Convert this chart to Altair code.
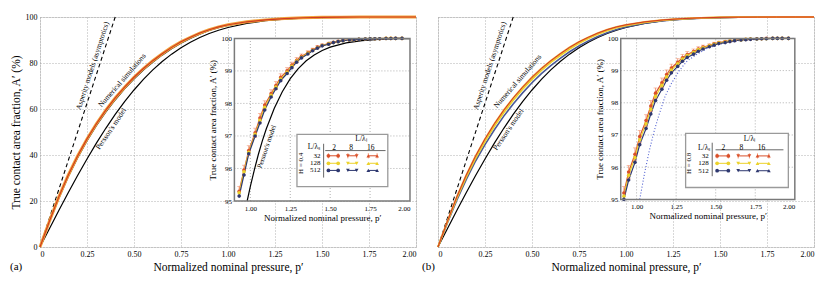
import altair as alt
import pandas as pd

FONT = "Liberation Serif"
W, H = 376, 230

# ---------------- main panels ----------------
P_MAIN = [0.0, 0.05, 0.10, 0.15, 0.20, 0.25, 0.30, 0.35, 0.40, 0.45, 0.50, 0.55, 0.60, 0.65,
          0.70, 0.75, 0.80, 0.85, 0.90, 0.95, 1.00, 1.10, 1.20, 1.30, 1.40, 1.50, 1.60, 1.70,
          1.80, 1.90, 2.00]
PERSSON_MAIN = [0.0, 7.97, 15.85, 23.58, 31.08, 38.29, 45.15, 51.61, 57.63, 63.19, 68.27, 72.87,
                76.99, 80.64, 83.85, 86.64, 89.04, 91.09, 92.81, 94.22, 95.45, 97.22, 98.36, 99.07,
                99.49, 99.73, 99.86, 99.93, 99.97, 99.99, 99.99]
NUM_A_TOP = [0.0, 11.2, 21.8, 31.2, 39.6, 47.0, 53.6, 59.5, 64.8, 69.5, 73.8, 77.6, 81.0, 84.0,
             86.8, 89.2, 91.2, 93.0, 94.5, 95.7, 96.6, 97.9, 98.75, 99.3, 99.65, 99.85, 99.93,
             99.97, 99.99, 100.0, 100.0]
NUM_A_LOW = [0.0, 10.8, 21.1, 30.4, 38.7, 46.1, 52.7, 58.6, 63.9, 68.7, 73.0, 76.9, 80.3, 83.4,
             86.2, 88.6, 90.7, 92.5, 94.1, 95.3, 96.3, 97.7, 98.6, 99.2, 99.6, 99.82, 99.92,
             99.96, 99.99, 100.0, 100.0]
NUM_B_TOP = [0.0, 11.2, 21.8, 31.2, 39.6, 47.0, 53.6, 59.5, 64.8, 69.5, 73.8, 77.6, 81.0, 84.0,
             86.8, 89.2, 91.2, 93.0, 94.5, 95.7, 96.6, 97.9, 98.75, 99.3, 99.65, 99.85, 99.93,
             99.97, 99.99, 100.0, 100.0]
NUM_B_MID = [0.0, 10.9, 21.2, 30.4, 38.7, 46.0, 52.6, 58.5, 63.8, 68.6, 72.9, 76.8, 80.3, 83.3,
             86.1, 88.6, 90.7, 92.5, 94.1, 95.4, 96.3, 97.7, 98.6, 99.2, 99.6, 99.82, 99.92,
             99.96, 99.99, 100.0, 100.0]
NUM_B_LOW = [0.0, 10.5, 20.4, 29.3, 37.4, 44.5, 51.0, 56.9, 62.2, 67.0, 71.4, 75.4, 78.9, 82.0,
             84.9, 87.4, 89.6, 91.5, 93.2, 94.6, 95.7, 97.3, 98.35, 99.0, 99.45, 99.72, 99.86,
             99.93, 99.97, 99.99, 100.0]
ASP_P = [0.0, 0.4]
ASP_A = [0.0, 100.0]

X_TICKS_MAIN = [0, 0.25, 0.5, 0.75, 1.0, 1.25, 1.5, 1.75, 2.0]
Y_TICKS_MAIN = [0, 20, 40, 60, 80, 100]

ANNOT_TEXT = ["Asperity models (asymptotics)", "Numerical simulations", "Persson's model"]
ANNOT_ANGLE = [288, 311, 304]
ANNOT_A_P = [0.281, 0.438, 0.379]
ANNOT_A_A = [78.8, 72.4, 51.3]
ANNOT_B_P = [0.277, 0.4245, 0.376]
ANNOT_B_A = [78.8, 72.0, 51.0]

# ---------------- insets ----------------
X_TICKS_IN = [1.0, 1.25, 1.5, 1.75, 2.0]
Y_TICKS_IN = [95, 96, 97, 98, 99, 100]
X_GRID_IN = [1.0, 1.25, 1.5, 1.75]
Y_GRID_IN = [96, 97, 98, 99]

P_PERSSON_IN = [0.98, 1.0, 1.025, 1.05, 1.075, 1.1, 1.15, 1.2, 1.25, 1.3, 1.35, 1.4, 1.45, 1.5,
                1.6, 1.7, 1.8, 1.9, 2.0]
A_PERSSON_IN = [95.0, 95.45, 95.96, 96.43, 96.85, 97.22, 97.85, 98.36, 98.76, 99.07, 99.31, 99.49,
                99.63, 99.73, 99.86, 99.93, 99.97, 99.99, 99.99]

P_IN_A = [0.93, 0.96, 0.99, 1.03, 1.06, 1.09, 1.13, 1.16, 1.19, 1.23, 1.26, 1.29, 1.32, 1.36,
          1.39, 1.42, 1.45, 1.49, 1.52, 1.55, 1.58, 1.62, 1.65, 1.68, 1.72, 1.75, 1.78, 1.81,
          1.85, 1.88, 1.91, 1.95]
A_A_32 = [95.3, 95.95, 96.55, 97.1, 97.55, 97.95, 98.3, 98.55, 98.8, 99.0, 99.18, 99.33, 99.45,
          99.56, 99.65, 99.73, 99.79, 99.84, 99.88, 99.91, 99.94, 99.95, 99.96, 99.97, 99.98,
          99.99, 99.99, 99.99, 100.0, 100.0, 100.0, 100.0]
E_A_32 = [0.15, 0.15, 0.15, 0.14, 0.14, 0.13, 0.12, 0.12, 0.11, 0.1, 0.09, 0.08, 0.07, 0.06,
          0.05, 0.05, 0.04, 0.04, 0.03, 0.03, 0.02, 0.02, 0.02, 0.01, 0.01, 0.01, 0.01, 0.01,
          0.0, 0.0, 0.0, 0.0]
A_A_128 = [95.25, 95.9, 96.5, 97.05, 97.48, 97.88, 98.25, 98.5, 98.75, 98.96, 99.14, 99.3, 99.42,
           99.54, 99.63, 99.71, 99.78, 99.83, 99.87, 99.9, 99.93, 99.95, 99.96, 99.97, 99.98,
           99.99, 99.99, 99.99, 100.0, 100.0, 100.0, 100.0]
A_A_512 = [95.15, 95.8, 96.45, 97.0, 97.4, 97.8, 98.2, 98.45, 98.7, 98.92, 99.1, 99.27, 99.4,
           99.52, 99.62, 99.7, 99.77, 99.82, 99.87, 99.9, 99.93, 99.95, 99.96, 99.97, 99.98,
           99.985, 99.99, 99.99, 99.995, 99.995, 100.0, 100.0]

P_IN_B = [0.92, 0.95, 0.99, 1.02, 1.06, 1.09, 1.12, 1.16, 1.19, 1.22, 1.26, 1.29, 1.32, 1.36,
          1.39, 1.42, 1.46, 1.49, 1.52, 1.56, 1.59, 1.62, 1.66, 1.69, 1.72, 1.76, 1.79, 1.82,
          1.86, 1.89, 1.92, 1.96]
A_B_32 = [95.2, 95.85, 96.4, 96.95, 97.45, 97.9, 98.3, 98.62, 98.88, 99.08, 99.26, 99.4, 99.5,
          99.59, 99.67, 99.73, 99.78, 99.83, 99.87, 99.9, 99.92, 99.94, 99.96, 99.97, 99.98,
          99.99, 99.99, 100.0, 100.0, 100.0, 100.0, 100.0]
E_B_32 = [0.2, 0.2, 0.2, 0.19, 0.18, 0.17, 0.16, 0.15, 0.14, 0.12, 0.11, 0.1, 0.09, 0.08, 0.07,
          0.06, 0.05, 0.05, 0.04, 0.03, 0.03, 0.02, 0.02, 0.02, 0.01, 0.01, 0.01, 0.0, 0.0, 0.0,
          0.0, 0.0]
A_B_128 = [95.1, 95.75, 96.3, 96.85, 97.35, 97.8, 98.2, 98.54, 98.81, 99.02, 99.21, 99.36, 99.47,
           99.56, 99.65, 99.71, 99.77, 99.82, 99.86, 99.89, 99.92, 99.94, 99.95, 99.97, 99.98,
           99.98, 99.99, 99.99, 100.0, 100.0, 100.0, 100.0]
A_B_512 = [95.0, 95.6, 96.15, 96.7, 97.2, 97.65, 98.07, 98.42, 98.7, 98.93, 99.13, 99.29, 99.41,
           99.51, 99.6, 99.67, 99.74, 99.79, 99.84, 99.87, 99.9, 99.93, 99.95, 99.96, 99.97,
           99.98, 99.99, 99.99, 100.0, 100.0, 100.0, 100.0]

DOT_P = [1.02, 1.05, 1.08, 1.11, 1.14, 1.18, 1.22, 1.27, 1.32, 1.38, 1.45, 1.55, 1.65, 1.8, 2.0]
DOT_A = [95.0, 95.8, 96.5, 97.1, 97.6, 98.2, 98.6, 99.0, 99.3, 99.5, 99.7, 99.85, 99.93, 99.98, 100.0]

LEG_ROWS = ["32", "128", "512"]
LEG_COLS = ["2", "8", "16"]

# ---------------- styles ----------------
GRID = "#9c9c9c"
C32, C128, C512 = "#d9502a", "#ecd22a", "#2e3870"
CERR = "#f2926e"
CORANGE, CRED = "#f2a33a", "#cf3a21"
CDOT = "#4b5bd0"
ROW_COLORS = [C32, C128, C512]
COL_SHAPES = ["circle", "triangle-down", "triangle-up"]


def main_axes(show_y):
    common = dict(grid=True, gridDash=[1, 2], gridColor=GRID, gridWidth=0.8, ticks=False,
                  domain=False, labelFont=FONT, titleFont=FONT, labelColor="black",
                  titleColor="black", labelFontSize=8, titleFontSize=11.5,
                  titleFontWeight="normal")
    ax = alt.Axis(values=X_TICKS_MAIN,
                  labelExpr="datum.value == 0 ? '0' : format(datum.value, '.2f')",
                  title="Normalized nominal pressure, p′", labelPadding=3, titlePadding=3,
                  **common)
    if show_y:
        ay = alt.Axis(values=Y_TICKS_MAIN, format="d",
                      title="True contact area fraction, A′ (%)", labelPadding=3,
                      titlePadding=4, **common)
    else:
        ay = alt.Axis(values=Y_TICKS_MAIN, labels=False, title="", **common)
    return ax, ay


def build_main(lines, ann_p, ann_a, show_y):
    ax, ay = main_axes(show_y)
    xs = alt.Scale(domain=[0, 2], nice=False, zero=False)
    ys = alt.Scale(domain=[0, 100], nice=False, zero=False)

    def XY():
        return dict(x=alt.X("p:Q", scale=xs, axis=ax), y=alt.Y("A:Q", scale=ys, axis=ay))

    layers = []
    asp = pd.DataFrame({"p": ASP_P, "A": ASP_A})
    layers.append(alt.Chart(asp).mark_line(color="black", strokeWidth=1.1, strokeDash=[4, 3])
                  .encode(**XY()))
    per = pd.DataFrame({"p": P_MAIN, "A": PERSSON_MAIN})
    layers.append(alt.Chart(per).mark_line(color="black", strokeWidth=1.2).encode(**XY()))
    for vals, color, width in lines:
        df = pd.DataFrame({"p": P_MAIN, "A": vals})
        layers.append(alt.Chart(df).mark_line(color=color, strokeWidth=width).encode(**XY()))
    for t, p, a, ang in zip(ANNOT_TEXT, ann_p, ann_a, ANNOT_ANGLE):
        df = pd.DataFrame({"p": [p], "A": [a], "t": [t]})
        layers.append(alt.Chart(df).mark_text(font=FONT, fontSize=7.5, angle=ang, color="black")
                      .encode(text="t:N", **XY()))
    return alt.layer(*layers)


def build_inset(x0, x1, yb, yt, pin, series, err, black_line, dotted, annot, leg, hlabel):
    xs = alt.Scale(domain=[0.9, 2.0], range=[x0, x1], nice=False, zero=False)
    ys = alt.Scale(domain=[95, 100], range=[yb, yt], nice=False, zero=False)
    common = dict(grid=False, ticks=False, domain=False, labelFont=FONT, titleFont=FONT,
                  labelColor="black", titleColor="black", titleFontWeight="normal", zindex=3)
    ax = alt.Axis(values=X_TICKS_IN, format=".2f", orient="bottom", offset=-(H - yb),
                  title="Normalized nominal pressure, p′", labelFontSize=7, titleFontSize=9,
                  labelPadding=3, titlePadding=2, **common)
    ay = alt.Axis(values=Y_TICKS_IN, format="d", orient="left", offset=-x0,
                  title="True contact area fraction, A′ (%)", labelFontSize=7, titleFontSize=9,
                  labelPadding=3, titlePadding=3, **common)

    def X(f):
        return alt.X(f"{f}:Q", scale=xs, axis=ax)

    def Y(f):
        return alt.Y(f"{f}:Q", scale=ys, axis=ay)

    L = []
    box = pd.DataFrame({"x1": [0.9], "x2": [2.0], "y1": [95.0], "y2": [100.0]})
    L.append(alt.Chart(box).mark_rect(color="white").encode(x=X("x1"), x2="x2", y=Y("y1"), y2="y2"))
    gv = pd.DataFrame({"g": X_GRID_IN, "lo": 95.0, "hi": 100.0})
    L.append(alt.Chart(gv).mark_rule(strokeDash=[1, 2], color=GRID, strokeWidth=0.8)
             .encode(x=X("g"), y=Y("lo"), y2="hi"))
    gh = pd.DataFrame({"g": Y_GRID_IN, "lo": 0.9, "hi": 2.0})
    L.append(alt.Chart(gh).mark_rule(strokeDash=[1, 2], color=GRID, strokeWidth=0.8)
             .encode(y=Y("g"), x=X("lo"), x2="hi"))
    if black_line:
        df = pd.DataFrame({"p": P_PERSSON_IN, "A": A_PERSSON_IN})
        L.append(alt.Chart(df).mark_line(color="black", strokeWidth=1.2).encode(x=X("p"), y=Y("A")))
    if dotted:
        df = pd.DataFrame({"p": DOT_P, "A": DOT_A})
        L.append(alt.Chart(df).mark_line(color=CDOT, strokeWidth=1.1, strokeDash=[1, 2])
                 .encode(x=X("p"), y=Y("A")))
    for vals, color in series:
        df = pd.DataFrame({"p": pin, "A": vals})
        L.append(alt.Chart(df).mark_line(color=color, strokeWidth=1.2).encode(x=X("p"), y=Y("A")))
    edf = pd.DataFrame({"p": pin, "A": series[0][0], "e": err})
    ebase = alt.Chart(edf).transform_calculate(lo="datum.A - datum.e", hi="datum.A + datum.e")
    L.append(ebase.mark_rule(color=CERR, strokeWidth=0.9).encode(x=X("p"), y=Y("lo"), y2="hi"))
    L.append(ebase.mark_tick(color=CERR, orient="horizontal", size=4, thickness=0.8)
             .encode(x=X("p"), y=Y("hi")))
    L.append(ebase.mark_tick(color=CERR, orient="horizontal", size=4, thickness=0.8)
             .encode(x=X("p"), y=Y("lo")))
    for vals, color in series:
        df = pd.DataFrame({"p": pin, "A": vals})
        L.append(alt.Chart(df).mark_point(filled=True, color=color, size=13, opacity=1)
                 .encode(x=X("p"), y=Y("A")))
    L.append(alt.Chart(box).mark_rect(fillOpacity=0, stroke="#7a7a7a", strokeWidth=1.5)
             .encode(x=X("x1"), x2="x2", y=Y("y1"), y2="y2"))
    if annot:
        df = pd.DataFrame({"p": [annot[0]], "A": [annot[1]], "t": ["Persson's model"]})
        L.append(alt.Chart(df).mark_text(font=FONT, fontSize=7, angle=annot[2], color="black")
                 .encode(x=X("p"), y=Y("A"), text="t:N"))

    # ---- legend ----
    bx = leg["box"]
    lb = pd.DataFrame({"x1": [bx[0]], "x2": [bx[1]], "y1": [bx[2]], "y2": [bx[3]]})
    L.append(alt.Chart(lb).mark_rect(fill="white", stroke="#9a9a9a", strokeWidth=1.3)
             .encode(x=X("x1"), x2="x2", y=Y("y1"), y2="y2"))
    v = leg["v"]
    h = leg["h"]
    rv = pd.DataFrame({"x1": [v[0]], "y1": [v[1]], "y2": [v[2]]})
    L.append(alt.Chart(rv).mark_rule(color="black", strokeWidth=0.6)
             .encode(x=X("x1"), y=Y("y1"), y2="y2"))
    rh = pd.DataFrame({"x1": [h[0]], "x2": [h[1]], "y1": [h[2]]})
    L.append(alt.Chart(rh).mark_rule(color="black", strokeWidth=0.6)
             .encode(x=X("x1"), x2="x2", y=Y("y1")))
    seg_rows, pt_rows, er_rows = [], [], []
    for ri, ra in enumerate(leg["rows_a"]):
        for ci, (s0, s1) in enumerate(leg["seg"]):
            seg_rows.append({"x1": s0, "x2": s1, "A": ra, "c": ROW_COLORS[ri]})
            for sx in (s0, s1):
                pt_rows.append({"p": sx, "A": ra, "c": ROW_COLORS[ri], "s": COL_SHAPES[ci]})
                if ri == 0:
                    er_rows.append({"p": sx, "lo": ra - 0.08, "hi": ra + 0.08})
    L.append(alt.Chart(pd.DataFrame(seg_rows)).mark_rule(strokeWidth=1)
             .encode(x=X("x1"), x2="x2", y=Y("A"), color=alt.Color("c:N", scale=None)))
    L.append(alt.Chart(pd.DataFrame(er_rows)).mark_rule(color=CERR, strokeWidth=0.9)
             .encode(x=X("p"), y=Y("lo"), y2="hi"))
    L.append(alt.Chart(pd.DataFrame(pt_rows)).mark_point(filled=True, size=14, opacity=1)
             .encode(x=X("p"), y=Y("A"), color=alt.Color("c:N", scale=None),
                     shape=alt.Shape("s:N", scale=None)))
    txt = [{"p": leg["ls"][0], "A": leg["ls"][1], "t": "L/λₛ"},
           {"p": leg["ll"][0], "A": leg["ll"][1], "t": "L/λₗ"}]
    for cx, cl in zip(leg["colx"], LEG_COLS):
        txt.append({"p": cx, "A": leg["head_a"], "t": cl})
    L.append(alt.Chart(pd.DataFrame(txt)).mark_text(font=FONT, fontSize=7.5, color="black")
             .encode(x=X("p"), y=Y("A"), text="t:N"))
    rt = pd.DataFrame({"p": leg["row_x"], "A": leg["rows_a"], "t": LEG_ROWS})
    L.append(alt.Chart(rt).mark_text(font=FONT, fontSize=7, color="black", align="right")
             .encode(x=X("p"), y=Y("A"), text="t:N"))
    ht = pd.DataFrame({"p": [leg["H"][0]], "A": [leg["H"][1]], "t": [hlabel]})
    L.append(alt.Chart(ht).mark_text(font=FONT, fontSize=7, color="black", angle=270)
             .encode(x=X("p"), y=Y("A"), text="t:N"))
    return alt.layer(*L)


LEG_A = dict(box=(1.292, 1.861, 95.44, 97.05), ll=(1.693, 96.92), ls=(1.398, 96.67),
             colx=[1.524, 1.632, 1.754], head_a=96.64, rows_a=[96.39, 96.16, 95.94],
             row_x=1.44, H=(1.318, 96.16), v=(1.459, 95.72, 96.76), h=(1.469, 1.847, 96.55),
             seg=[(1.489, 1.55), (1.611, 1.666), (1.739, 1.794)])
LEG_B = dict(box=(1.31, 1.959, 95.37, 97.05), ll=(1.713, 96.89), ls=(1.427, 96.61),
             colx=[1.549, 1.662, 1.789], head_a=96.61, rows_a=[96.35, 96.12, 95.89],
             row_x=1.456, H=(1.332, 96.12), v=(1.478, 95.72, 96.76), h=(1.499, 1.928, 96.54),
             seg=[(1.509, 1.58), (1.642, 1.713), (1.764, 1.836)])

main_a = build_main([(NUM_A_LOW, "#1f1f1f", 1.1), (NUM_A_TOP, CORANGE, 3.0), (NUM_A_TOP, CRED, 1.1)],
                    ANNOT_A_P, ANNOT_A_A, True)
main_b = build_main([(NUM_B_LOW, "#4a5a96", 1.6), (NUM_B_MID, C128, 1.8), (NUM_B_TOP, CORANGE, 1.8),
                     (NUM_B_TOP, CRED, 1.0)],
                    ANNOT_B_P, ANNOT_B_A, False)

inset_a = build_inset(0.517 * W, 0.984 * W, 0.80 * H, 0.093 * H, P_IN_A,
                      [(A_A_32, C32), (A_A_128, C128), (A_A_512, C512)], E_A_32,
                      True, False, (1.103, 96.67, 289), LEG_A, "H = 0.4")
inset_b = build_inset(0.486 * W, 0.949 * W, 0.793 * H, 0.093 * H, P_IN_B,
                      [(A_B_32, C32), (A_B_128, C128), (A_B_512, C512)], E_B_32,
                      False, True, None, LEG_B, "H = 0.8")


def tag(text, dx):
    return alt.TitleParams(text=text, orient="bottom", anchor="start", frame="group", dx=dx,
                           offset=-12, fontSize=11, font=FONT, fontWeight="normal", color="black")


panel_a = (alt.layer(main_a, inset_a).resolve_scale(x="independent", y="independent")
           .properties(width=W, height=H, title=tag("(a)", -30)))
panel_b = (alt.layer(main_b, inset_b).resolve_scale(x="independent", y="independent")
           .properties(width=W, height=H, title=tag("(b)", -16)))

chart = (alt.hconcat(panel_a, panel_b, spacing=22, bounds="flush")
         .properties(padding={"left": 1, "top": 2, "right": 2, "bottom": 1})
         .configure_view(stroke="black", strokeWidth=1)
         .configure(background="white"))

chart.save("out.html", embed_options={"renderer": "svg", "actions": False})
